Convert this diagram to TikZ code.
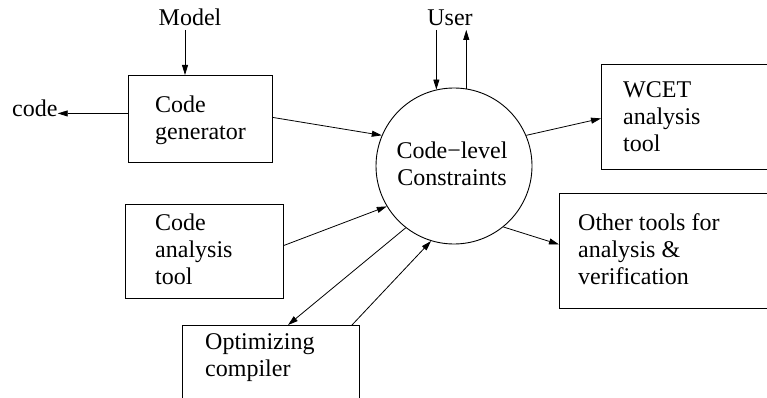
\documentclass[tikz,border=0pt]{standalone}
\usepackage{fontspec}
\setmainfont{Liberation Serif}
\usetikzlibrary{arrows.meta}
\newcommand{\mylines}[1]{\begin{tabular}[t]{@{}l@{}}#1\end{tabular}}
\begin{document}
\begin{tikzpicture}[x=1pt,y=-1pt,
  box/.style={draw, line width=0.9pt, anchor=north west, inner sep=0pt},
  lbl/.style={anchor=base west, inner sep=0pt, font=\fontsize{24}{27}\selectfont},
  arr/.style={-{Triangle[length=10pt,width=6pt]}, line width=0.8pt},
  ]
\useasboundingbox (0,0) rectangle (767,398);
\clip (0,0) rectangle (767,398);
% boxes
\node[box, minimum width=144pt, minimum height=87pt] (cg) at (128,75) {};
\node[box, minimum width=158pt, minimum height=94pt] (ca) at (125,204) {};
\node[box, minimum width=177pt, minimum height=100pt] (opt) at (182,325) {};
\node[box, minimum width=200pt, minimum height=105pt] (wcet) at (601,64) {};
\node[box, minimum width=220pt, minimum height=115pt] (other) at (559,193) {};
\node[circle, draw, line width=0.9pt, minimum size=156pt, inner sep=0pt] (c) at (454,166) {};
% texts
\node[lbl] (cgt) at (155,113) {\mylines{Code\\generator}};
\node[lbl] (cat) at (155,230) {\mylines{Code\\analysis\\tool}};
\node[lbl] (optt) at (205,349) {\mylines{Optimizing\\compiler}};
\node[lbl] (wcett) at (623,98) {\mylines{WCET\\analysis\\tool}};
\node[lbl] (othert) at (578,230) {\mylines{Other tools for\\analysis \&\\verification}};
\node[lbl, anchor=base] (ct) at (452,158) {\begin{tabular}[t]{@{}c@{}}Code−level\\Constraints\end{tabular}};
\node[lbl, anchor=base, inner sep=3.5pt] (model) at (190,26) {Model};
\node[lbl, anchor=base, inner sep=3.5pt] (user) at (450,26) {User};
\node[lbl] (code) at (12,117) {code};
% connectors
\coordinate (mtop) at ([xshift=57pt]cg.north west);
\draw[arr] (model.south -| mtop) -- (mtop);
\coordinate (cgw) at ([yshift=5.5pt]cg.west);
\draw[arr] (cgw) -- (code.east |- cgw);
\draw[arr] ([yshift=1.5pt]cg.east) -- (c.157.4);
\coordinate (udown) at (c.103.9);
\coordinate (uup) at (c.81.9);
\draw[arr] (user.south -| udown) -- (udown);
\draw[arr] (uup) -- (user.south -| uup);
\draw[arr] (c.23) -- ([yshift=-1.5pt]wcet.west);
\draw[arr] (c.-51.2) -- ([yshift=6.5pt]other.west);
\draw[arr] ([yshift=6pt]ca.east) -- (c.211.3);
\draw[arr] (c.232.8) -- ([xshift=106pt]opt.north west);
\draw[arr] ([xshift=170pt]opt.north west) -- (c.253.2);
\end{tikzpicture}
\end{document}
